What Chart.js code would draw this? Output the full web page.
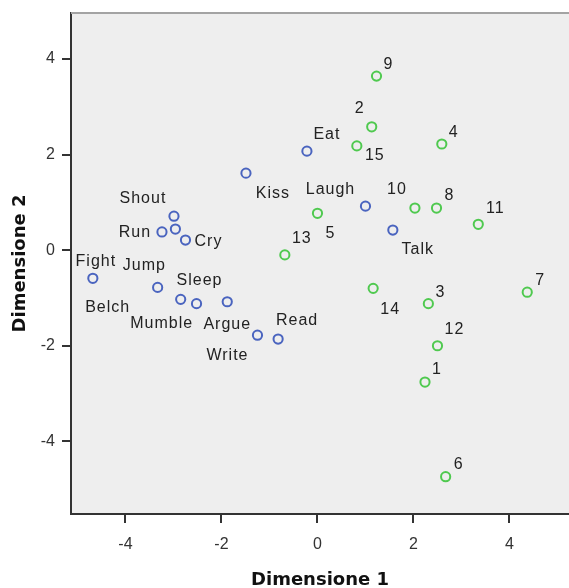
<!DOCTYPE html>
<html><head><meta charset="utf-8">
<script src="https://cdn.jsdelivr.net/npm/chart.js@4"></script>
<style>html,body{margin:0;padding:0;background:#fff}canvas{display:block}</style>
</head><body>
<canvas id="c" width="569" height="588"></canvas>
<script>
const xTicks = [-4, -2, 0, 2, 4];
const yTicks = [-4, -2, 0, 2, 4];

const verbLabels = ['Shout','Run','Jump','Cry','Fight','Belch','Mumble','Sleep','Argue','Write','Read','Kiss','Eat','Laugh','Talk'];
const verbDim1 = [-2.99,-3.24,-2.96,-2.75,-4.68,-3.33,-2.85,-2.52,-1.88,-1.25,-0.82,-1.49,-0.22,1.00,1.57];
const verbDim2 = [0.71,0.38,0.44,0.21,-0.59,-0.78,-1.03,-1.12,-1.08,-1.78,-1.86,1.61,2.07,0.92,0.42];

const subjLabels = ['1','2','3','4','5','6','7','8','9','10','11','12','13','14','15'];
const subjDim1 = [2.24,1.13,2.31,2.59,0.00,2.67,4.37,2.48,1.23,2.03,3.35,2.50,-0.68,1.16,0.82];
const subjDim2 = [-2.76,2.58,-1.12,2.22,0.77,-4.74,-0.88,0.88,3.64,0.88,0.54,-2.00,-0.10,-0.80,2.18];

// label placement (pixel offsets of label centre from its marker)
const labelOffsets = {
  Shout:[-31,-18], Run:[-27,1], Jump:[-31,37], Cry:[23,2], Fight:[3,-17], Belch:[-50,20],
  Mumble:[-19,24], Sleep:[3,-23], Argue:[0,23], Write:[-30,20], Read:[19,-18], Kiss:[27,20],
  Eat:[20,-17], Laugh:[-35,-17], Talk:[25,20],
  '1':[12,-12], '2':[-12,-18], '3':[12,-11], '4':[12,-11], '5':[13,20], '6':[13,-12], '7':[13,-12],
  '8':[13,-12], '9':[12,-12], '10':[-18,-18], '11':[17,-16], '12':[17,-16], '13':[17,-16],
  '14':[17,21], '15':[18,10]
};

const verbPoints = verbDim1.map((v, i) => ({x: v, y: verbDim2[i], label: verbLabels[i]}));
const subjPoints = subjDim1.map((v, i) => ({x: v, y: subjDim2[i], label: subjLabels[i]}));

const framePlugin = {
  id: 'frame',
  beforeDraw(chart) {
    const {ctx, chartArea: a} = chart;
    ctx.save();
    ctx.fillStyle = '#eeeeee';
    ctx.fillRect(a.left, a.top, a.right - a.left, a.bottom - a.top);
    ctx.restore();
  },
  afterDraw(chart) {
    const {ctx, chartArea: a} = chart;
    ctx.save();
    ctx.strokeStyle = '#a3a3a3';
    ctx.lineWidth = 2;
    ctx.beginPath();
    ctx.moveTo(a.left, a.top);
    ctx.lineTo(a.right, a.top);
    ctx.stroke();
    ctx.restore();
  }
};

const labelPlugin = {
  id: 'pointLabels',
  afterDatasetsDraw(chart) {
    const {ctx} = chart;
    ctx.save();
    ctx.font = '16px "Liberation Sans", Arial, sans-serif';
    if ('letterSpacing' in ctx) ctx.letterSpacing = '1px';
    ctx.fillStyle = '#222222';
    ctx.textAlign = 'center';
    ctx.textBaseline = 'middle';
    chart.data.datasets.forEach((ds, di) => {
      const meta = chart.getDatasetMeta(di);
      meta.data.forEach((el, i) => {
        const lab = ds.data[i].label;
        const off = labelOffsets[lab] || [10, -10];
        ctx.fillText(lab, el.x + off[0], el.y + off[1]);
      });
    });
    ctx.restore();
  }
};

function noPad(s) { s.paddingTop = 0; s.paddingBottom = 0; s.paddingLeft = 0; s.paddingRight = 0; }

new Chart(document.getElementById('c'), {
  type: 'scatter',
  data: {
    datasets: [
      {label: 'Verbi', data: verbPoints, borderColor: '#4a64bf', backgroundColor: 'rgba(0,0,0,0)',
       pointRadius: 4.6, pointBorderWidth: 2, pointHoverRadius: 4.6},
      {label: 'Soggetti', data: subjPoints, borderColor: '#4fc94f', backgroundColor: 'rgba(0,0,0,0)',
       pointRadius: 4.6, pointBorderWidth: 2, pointHoverRadius: 4.6}
    ]
  },
  options: {
    responsive: false,
    animation: false,
    events: [],
    layout: {autoPadding: false, padding: {top: 13, right: 0, bottom: 0, left: 0}},
    plugins: {legend: {display: false}, tooltip: {enabled: false}},
    scales: {
      x: {
        type: 'linear', min: -5.135, max: 5.24,
        afterBuildTicks: s => { s.ticks = xTicks.map(v => ({value: v})); },
        afterFit: s => { s.height = 74; noPad(s); },
        grid: {drawOnChartArea: false, drawTicks: true, tickLength: 9, color: '#333333', lineWidth: 2},
        border: {display: true, color: '#333333', width: 2},
        ticks: {font: {family: '"Liberation Sans", Arial, sans-serif', size: 16}, color: '#333333', padding: 12},
        title: {display: true, text: 'Dimensione 1', color: '#111111',
                font: {family: '"DejaVu Sans", sans-serif', size: 18, weight: 'bold', lineHeight: 0.8}, padding: {top: 0, bottom: 0}}
      },
      y: {
        type: 'linear', min: -5.52, max: 4.96,
        afterBuildTicks: s => { s.ticks = yTicks.map(v => ({value: v})); },
        afterFit: s => { s.width = 71; noPad(s); },
        grid: {drawOnChartArea: false, drawTicks: true, tickLength: 9, color: '#333333', lineWidth: 2},
        border: {display: true, color: '#333333', width: 2},
        ticks: {font: {family: '"Liberation Sans", Arial, sans-serif', size: 16}, color: '#333333', padding: 7},
        title: {display: true, text: 'Dimensione 2', color: '#111111',
                font: {family: '"DejaVu Sans", sans-serif', size: 18, weight: 'bold'}, padding: {top: 10, bottom: 0}}
      }
    }
  },
  plugins: [framePlugin, labelPlugin]
});
</script>
</body></html>
